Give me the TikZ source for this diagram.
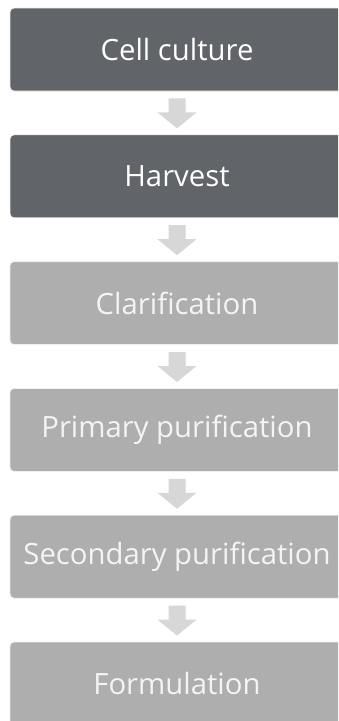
\documentclass[tikz,border=0pt]{standalone}
\usepackage{fontspec}
\setmainfont{Open Sans}
\usetikzlibrary{calc}
\definecolor{darkbox}{HTML}{616468}
\definecolor{lightbox}{HTML}{ADAEAD}
\definecolor{arrowc}{HTML}{D6D7D6}
\definecolor{lighttext}{HTML}{F4F4F4}
\tikzset{
  stepbox/.style={rounded corners=4pt, minimum width=334pt, minimum height=83pt, inner sep=0pt,
    draw=black!6, line width=0.8pt, font=\fontsize{29.3}{33}\selectfont},
  darkstep/.style={stepbox, fill=darkbox, text=white},
  lightstep/.style={stepbox, fill=lightbox, text=lighttext},
  flowarrow/.style={fill=arrowc}
}
\newcommand{\flowarr}[2]{%
  \fill[flowarrow] ($(#1.south)+(-8.5,7)$) -- ($(#1.south)+(8.5,7)$)
    -- ($(#2.north)+(8.5,-22)$) -- ($(#2.north)+(19.5,-22)$)
    -- ($(#2.north)+(0,-6)$) -- ($(#2.north)+(-19.5,-22)$)
    -- ($(#2.north)+(-8.5,-22)$) -- cycle;}
\begin{document}
\begin{tikzpicture}[x=1pt,y=-1pt]
\useasboundingbox (0,0) rectangle (338,721);
\clip (0,0) rectangle (338,721);
\fill[white] (0,0) rectangle (338,721);
\node[darkstep]  (b1) at (177,49.5)  {Cell culture};
\node[darkstep]  (b2) at (177,176.3) {Harvest};
\node[lightstep] (b3) at (177,303.1) {Clarification};
\node[lightstep] (b4) at (177,429.9) {Primary purification};
\node[lightstep] (b5) at (177,556.7) {Secondary purification};
\node[lightstep] (b6) at (177,683.5) {Formulation};
\flowarr{b1}{b2}
\flowarr{b2}{b3}
\flowarr{b3}{b4}
\flowarr{b4}{b5}
\flowarr{b5}{b6}
\end{tikzpicture}
\end{document}
